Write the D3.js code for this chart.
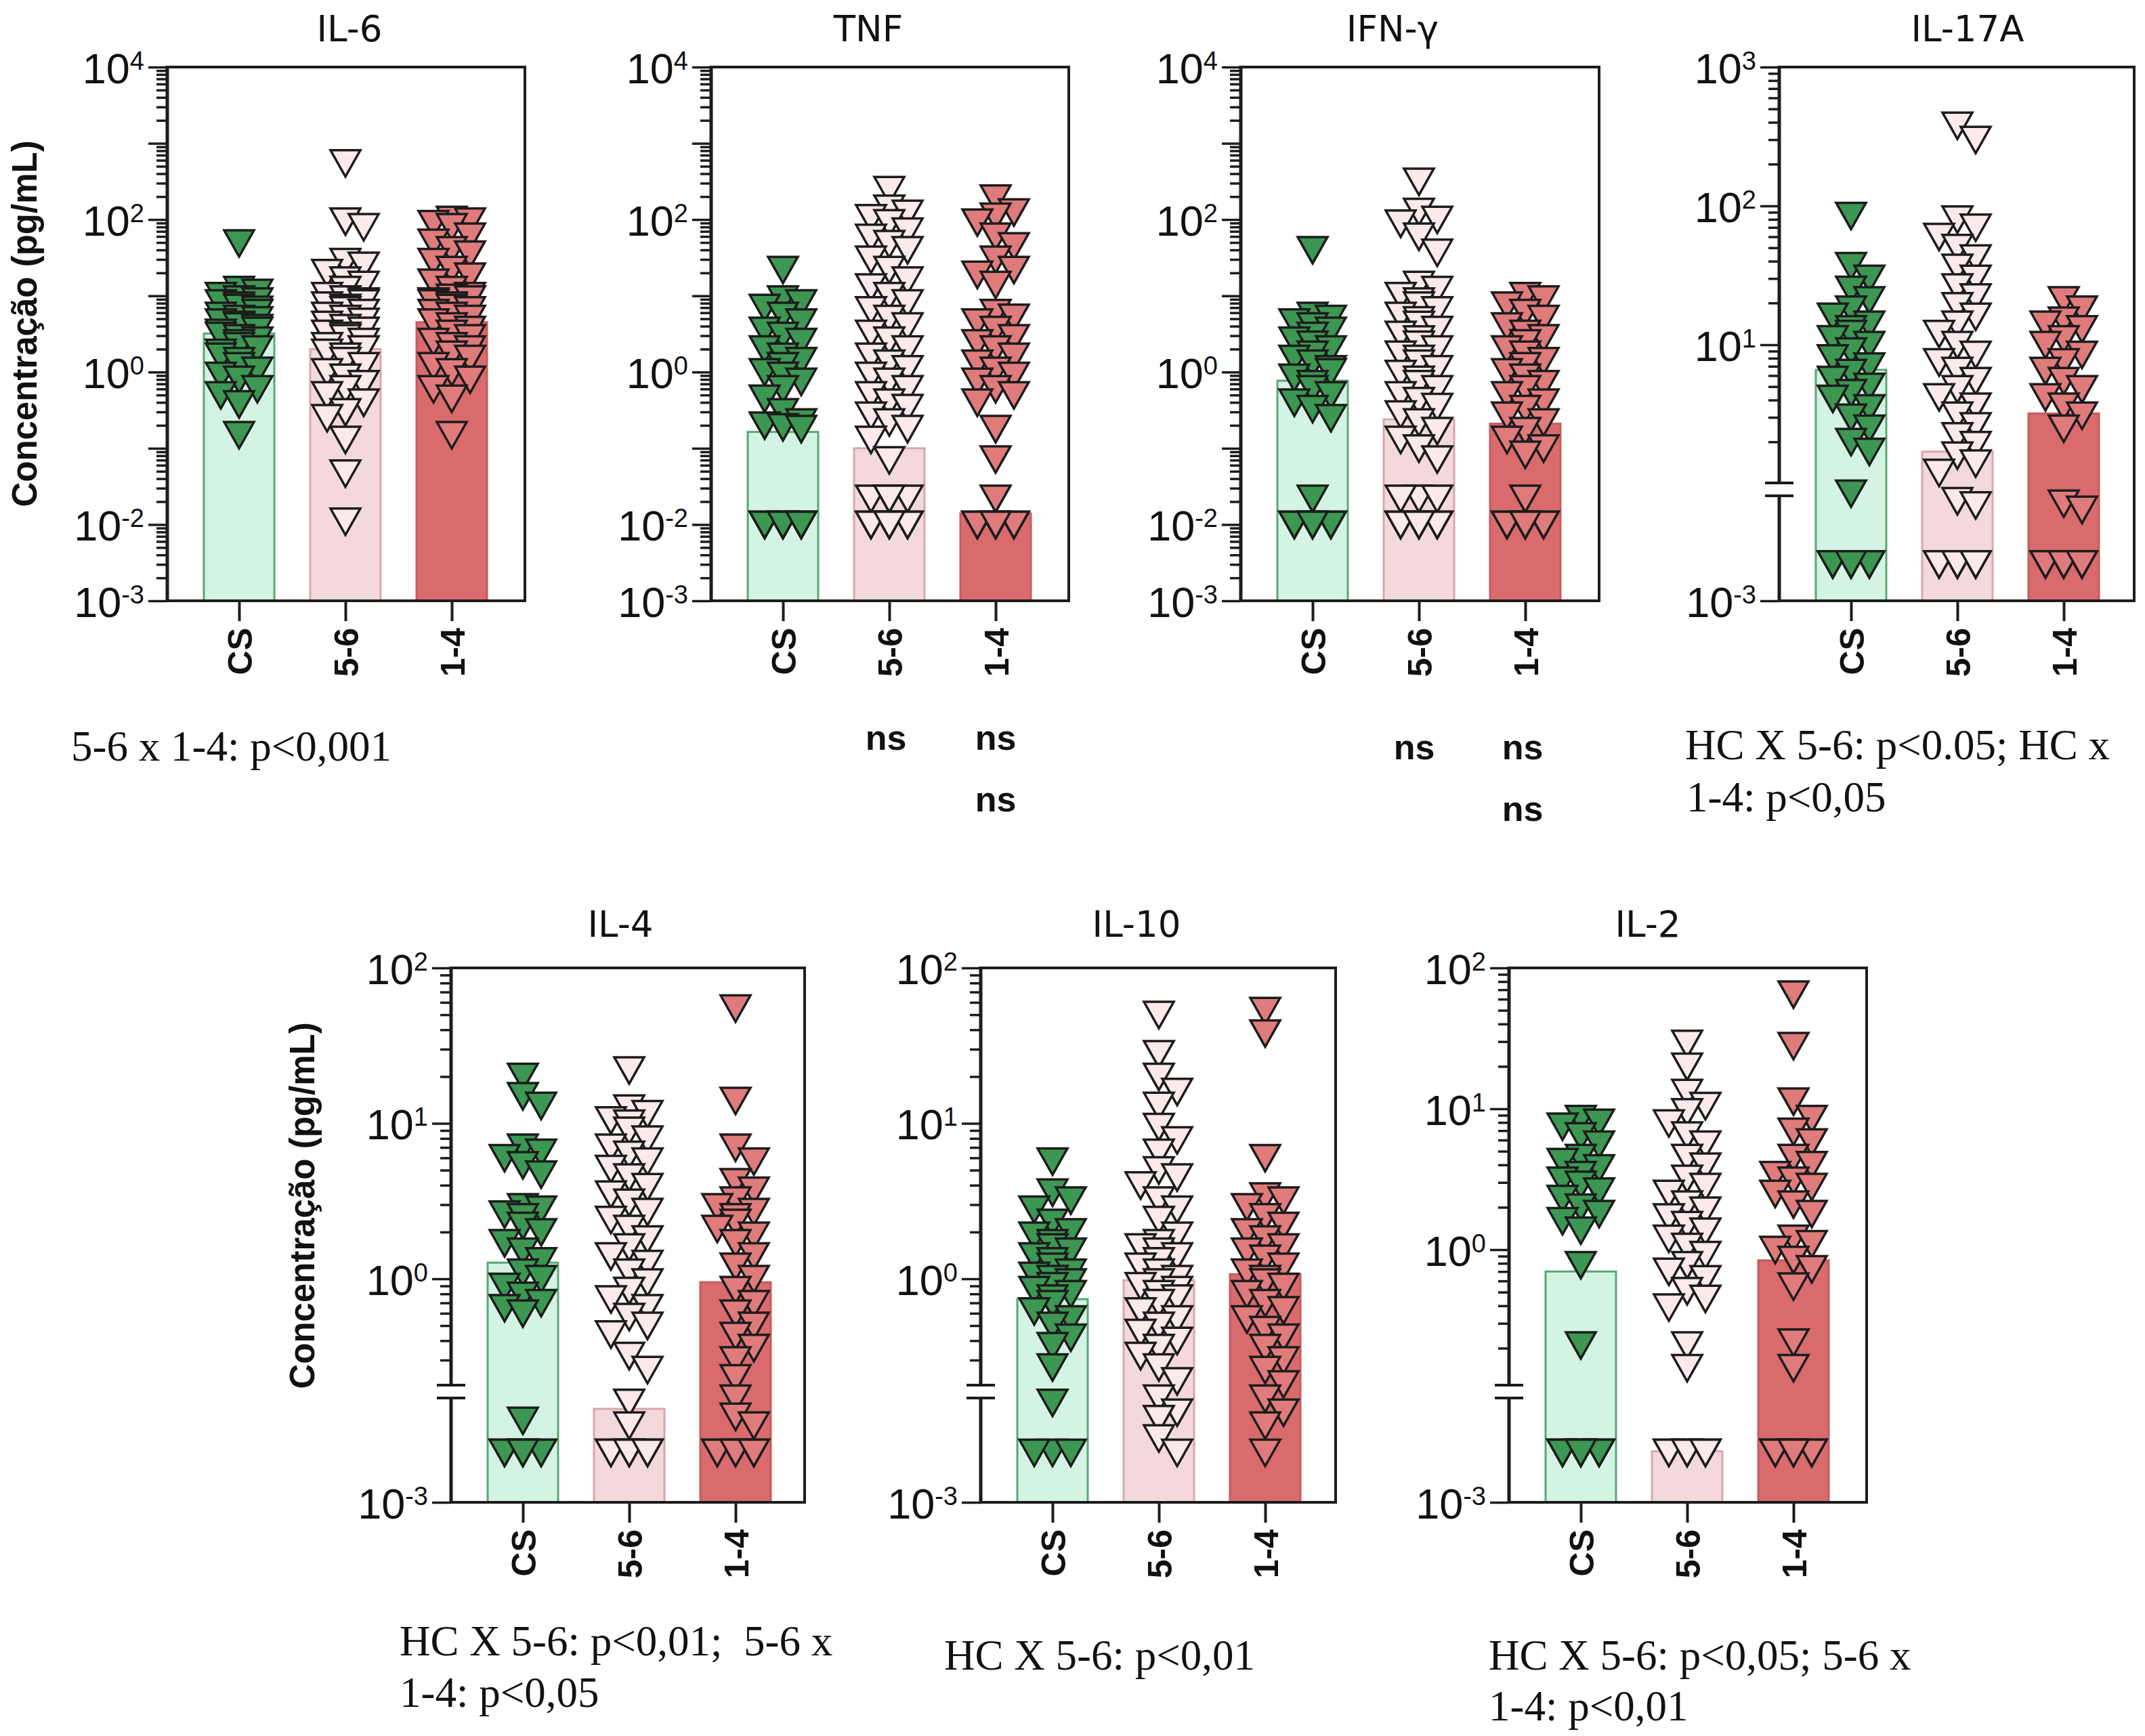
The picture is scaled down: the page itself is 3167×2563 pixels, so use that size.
<!DOCTYPE html>
<html>
<head>
<meta charset="utf-8">
<script src="https://cdn.jsdelivr.net/npm/d3@7"></script>
<style>
body { margin: 0; background: #fff; }
</style>
</head>
<body>
<div id="chart"></div>
<script>
var groups = ['CS', '5-6', '1-4'];

// IL-6
var il6_cs = [49, 12, 11, 10, 9, 8.5, 8, 7.5, 7, 6.6, 6, 5.5, 5, 4.8, 4.5, 4.2, 4, 3.8, 3.5, 3.3, 3, 2.8, 2.6, 2.4, 2.2, 2, 1.8, 1.6, 1.4, 1.2, 1.05, 0.9, 0.8, 0.6, 0.5, 0.38, 0.15];
var il6_56 = [550, 95, 80, 28, 25, 20, 16, 14, 12, 10, 9, 8.5, 8, 7.5, 7, 6.5, 6, 5.5, 5, 4.6, 4.2, 3.8, 3.5, 3.2, 3, 2.8, 2.5, 2.2, 2, 1.8, 1.6, 1.4, 1.2, 1, 0.85, 0.7, 0.6, 0.5, 0.4, 0.3, 0.25, 0.13, 0.047, 0.011];
var il6_14 = [100, 95, 88, 80, 60, 50, 40, 35, 28, 22, 18, 15, 12, 10, 9.5, 9, 8.5, 8, 7.5, 7, 6.5, 6, 5.5, 5, 4.5, 4, 3.6, 3.2, 2.8, 2.5, 2.2, 2, 1.7, 1.5, 1.2, 1, 0.8, 0.6, 0.45, 0.15];
var il6_bar = [3.2, 2.0, 4.5];

// TNF
var tnf_cs = [22, 9, 8, 7, 5.5, 4.5, 3.5, 3, 2.5, 2, 1.6, 1.4, 1.2, 1, 0.9, 0.75, 0.6, 0.45, 0.3, 0.22, 0.2, 0.19, 0.18, 0.01, 0.01, 0.01, 0.01, 0.01, 0.01, 0.01, 0.01, 0.01, 0.01, 0.01];
var tnf_56 = [245, 140, 120, 105, 90, 70, 58, 48, 40, 30, 22, 16, 13, 10, 8, 6.5, 5, 4, 3.2, 2.6, 2, 1.6, 1.3, 1.1, 0.9, 0.75, 0.6, 0.5, 0.4, 0.34, 0.27, 0.22, 0.18, 0.13, 0.07, 0.022, 0.022, 0.022, 0.022, 0.01, 0.01, 0.01, 0.01, 0.01, 0.01, 0.01, 0.01, 0.01, 0.01];
var tnf_14 = [190, 125, 110, 92, 60, 45, 30, 22, 19, 14, 6, 5.2, 4.5, 3.6, 2.8, 2.4, 2, 1.6, 1.3, 1.05, 0.9, 0.75, 0.6, 0.5, 0.4, 0.18, 0.072, 0.022, 0.01, 0.01, 0.01, 0.01, 0.01, 0.01, 0.01, 0.01, 0.01, 0.01];
var tnf_bar = [0.164, 0.1, 0.014];

// IFN-g
var ifn_cs = [40, 5.5, 5, 4.5, 4, 3.5, 3, 2.6, 2.3, 2, 1.7, 1.5, 1.3, 1.1, 1, 0.85, 0.7, 0.6, 0.5, 0.4, 0.33, 0.25, 0.022, 0.01, 0.01, 0.01, 0.01, 0.01, 0.01, 0.01, 0.01, 0.01, 0.01];
var ifn_56 = [316, 127, 100, 89, 60, 37, 14, 12, 10, 8.5, 7.5, 6.5, 5.5, 4.8, 4.2, 3.6, 3.1, 2.7, 2.3, 2, 1.7, 1.5, 1.3, 1.1, 0.95, 0.8, 0.7, 0.6, 0.5, 0.42, 0.35, 0.28, 0.22, 0.17, 0.13, 0.1, 0.072, 0.022, 0.022, 0.022, 0.01, 0.01, 0.01, 0.01, 0.01, 0.01, 0.01, 0.01, 0.01, 0.01];
var ifn_14 = [10, 9, 7.5, 6, 5, 4, 3.2, 2.8, 2.4, 2, 1.7, 1.4, 1.2, 1, 0.85, 0.7, 0.6, 0.5, 0.4, 0.33, 0.27, 0.22, 0.17, 0.13, 0.1, 0.083, 0.022, 0.01, 0.01, 0.01, 0.01, 0.01, 0.01, 0.01, 0.01, 0.01, 0.01];
var ifn_bar = [0.77, 0.24, 0.21];

// IL-17A
var il17_cs = [85, 37, 30, 25, 21, 18, 16, 14, 13, 12, 11, 10, 9, 8, 7, 6.3, 5.6, 5, 4.5, 4.1, 3.5, 3, 2.5, 2, 1.7, 0.85, 0.005, 0.005, 0.005, 0.005, 0.005, 0.005, 0.005];
var il17_56 = [380, 300, 80, 70, 60, 50, 42, 36, 30, 26, 22, 19, 16, 14, 12, 10, 8.5, 7.5, 6.5, 5.5, 4.8, 4.2, 3.6, 3.1, 2.6, 2.2, 1.9, 1.6, 1.4, 1.2, 0.75, 0.7, 0.005, 0.005, 0.005, 0.005, 0.005, 0.005, 0.005, 0.005];
var il17_14 = [21, 18, 15, 14, 13, 11, 10, 8.5, 7.5, 6.5, 5.5, 4.8, 4.2, 3.6, 3.1, 2.5, 0.72, 0.65, 0.005, 0.005, 0.005, 0.005, 0.005, 0.005, 0.005, 0.005];
var il17_bar = [6.6, 1.7, 3.2];

// IL-4
var il4_cs = [20, 15, 13, 7, 6.5, 6, 5.4, 4.7, 2.9, 2.8, 2.6, 2.5, 2.2, 2, 1.7, 1.5, 1.3, 1.1, 1, 0.89, 0.78, 0.7, 0.65, 0.6, 0.037, 0.009, 0.009, 0.009, 0.009, 0.009, 0.009, 0.009];
var il4_56 = [22, 12.5, 11.5, 10.5, 10, 9, 7.9, 7, 6.3, 5.7, 5.1, 4.5, 3.9, 3.5, 3.1, 2.7, 2.4, 2.1, 1.8, 1.6, 1.4, 1.25, 1.1, 0.95, 0.84, 0.74, 0.65, 0.57, 0.5, 0.44, 0.32, 0.26, 0.16, 0.03, 0.009, 0.009, 0.009, 0.009, 0.009, 0.009, 0.009, 0.009];
var il4_14 = [55, 14, 7, 5.7, 4.2, 3.7, 3.2, 2.9, 2.7, 2.5, 2.3, 2.1, 1.9, 1.7, 1.4, 1.2, 1, 0.85, 0.69, 0.6, 0.5, 0.43, 0.36, 0.3, 0.23, 0.17, 0.13, 0.03, 0.009, 0.009, 0.009, 0.009, 0.009, 0.009, 0.009, 0.009];
var il4_bar = [1.27, 0.062, 0.95];

// IL-10
var il10_cs = [5.7, 3.6, 3.2, 2.8, 2.3, 2, 1.9, 1.7, 1.6, 1.5, 1.4, 1.3, 1.2, 1.1, 1.05, 1, 0.95, 0.9, 0.85, 0.8, 0.75, 0.69, 0.62, 0.55, 0.5, 0.42, 0.37, 0.27, 0.16, 0.009, 0.009, 0.009];
var il10_56 = [50, 28, 20, 16, 13, 9.5, 7.8, 6.5, 5, 4.5, 4, 3.2, 2.8, 2.4, 1.9, 1.7, 1.6, 1.5, 1.4, 1.3, 1.2, 1.1, 1, 0.95, 0.9, 0.85, 0.8, 0.75, 0.7, 0.62, 0.55, 0.5, 0.45, 0.4, 0.36, 0.32, 0.27, 0.22, 0.17, 0.053, 0.04, 0.017, 0.009];
var il10_14 = [53, 38, 6, 3.4, 3.2, 2.9, 2.5, 2.2, 2, 1.8, 1.6, 1.5, 1.35, 1.2, 1.1, 1, 0.95, 0.89, 0.8, 0.7, 0.63, 0.55, 0.47, 0.42, 0.36, 0.3, 0.26, 0.21, 0.17, 0.053, 0.03, 0.009];
var il10_bar = [0.74, 0.98, 1.07];

// IL-2
var il2_cs = [8.5, 8, 7.5, 6.4, 5.6, 4.5, 4.2, 3.8, 3.4, 3.1, 2.9, 2.6, 2.3, 2, 1.8, 1.6, 1.37, 0.78, 0.21, 0.009, 0.009, 0.009, 0.009, 0.009, 0.009, 0.009, 0.009, 0.009, 0.009];
var il2_56 = [29, 20, 13, 10.5, 9.5, 7.9, 6.5, 5.6, 4.5, 3.9, 3.2, 2.8, 2.5, 2.1, 1.9, 1.7, 1.5, 1.35, 1.2, 1.05, 0.92, 0.78, 0.7, 0.62, 0.51, 0.45, 0.39, 0.21, 0.145, 0.009, 0.009, 0.009, 0.009, 0.009, 0.009, 0.009, 0.009];
var il2_14 = [65, 28, 11.3, 8.5, 6.9, 5.8, 4.5, 4, 3.4, 3.1, 2.8, 2.5, 2.1, 1.8, 1.2, 1.1, 1, 0.85, 0.73, 0.55, 0.22, 0.145, 0.009, 0.009, 0.009, 0.009, 0.009, 0.009, 0.009, 0.009, 0.009, 0.009];
var il2_bar = [0.7, 0.0095, 0.84];

// labelled powers of ten on the y axes
var row1_exps = [-3, -2, 0, 2, 4];
var il17_exps = [-3, 1, 2, 3];
var row2_exps = [-3, 0, 1, 2];

var y_title = 'Concentração (pg/mL)';

var chart_width = 3167;
var chart_height = 2563;
var ink = '#1c1c1c';
var bar_fill = ['#d3f4e2', '#f3d9dc', '#d96b6d'];
var bar_stroke = ['#5aa676', '#d8a7ac', '#c65b5e'];
var pt_fill = ['#3c9752', '#fbe9eb', '#e07b7c'];
var sans = '"Liberation Sans", Arial, sans-serif';

var panels = [
	{title: 'IL-6', sets: [il6_cs, il6_56, il6_14], bars: il6_bar, exps: row1_exps,
		left: 247, right: 775, top: 99, bottom: 887, titleX: 516, titleY: 61, yTitle: [54, 478]},
	{title: 'TNF', sets: [tnf_cs, tnf_56, tnf_14], bars: tnf_bar, exps: row1_exps,
		left: 1050, right: 1578, top: 99, bottom: 887, titleX: 1282, titleY: 61},
	{title: 'IFN-γ', sets: [ifn_cs, ifn_56, ifn_14], bars: ifn_bar, exps: row1_exps,
		left: 1832, right: 2361, top: 99, bottom: 887, titleX: 2056, titleY: 61},
	{title: 'IL-17A', sets: [il17_cs, il17_56, il17_14], bars: il17_bar, exps: il17_exps,
		left: 2627, right: 3151, top: 99, bottom: 887, titleX: 2905, titleY: 61,
		brk: {oneY: 714, topVal: 1000, brkTop: 713, lowTop: 732}},
	{title: 'IL-4', sets: [il4_cs, il4_56, il4_14], bars: il4_bar, exps: row2_exps,
		left: 666, right: 1188, top: 1429, bottom: 2218, titleX: 916, titleY: 1383, yTitle: [464, 1780],
		brk: {oneY: 1888, topVal: 100, brkTop: 2045, lowTop: 2064}},
	{title: 'IL-10', sets: [il10_cs, il10_56, il10_14], bars: il10_bar, exps: row2_exps,
		left: 1448, right: 1972, top: 1429, bottom: 2218, titleX: 1678, titleY: 1383,
		brk: {oneY: 1888, topVal: 100, brkTop: 2045, lowTop: 2064}},
	{title: 'IL-2', sets: [il2_cs, il2_56, il2_14], bars: il2_bar, exps: row2_exps,
		left: 2228, right: 2756, top: 1429, bottom: 2218, titleX: 2433, titleY: 1383,
		brk: {oneY: 1845, topVal: 100, brkTop: 2045, lowTop: 2064}}
];

// p-value notes under the panels
var notes = [
	{text: '5-6 x 1-4: p<0,001', x: 105, y: 1123},
	{text: 'HC X 5-6: p<0.05; HC x', x: 2488, y: 1121},
	{text: '1-4: p<0,05', x: 2490, y: 1198},
	{text: 'HC X 5-6: p<0,01;  5-6 x', x: 590, y: 2444},
	{text: '1-4: p<0,05', x: 590, y: 2520},
	{text: 'HC X 5-6: p<0,01', x: 1394, y: 2465},
	{text: 'HC X 5-6: p<0,05; 5-6 x', x: 2198, y: 2465},
	{text: '1-4: p<0,01', x: 2198, y: 2540}
];
var ns_marks = [
	{x: 1308, y: 1107}, {x: 1470, y: 1107}, {x: 1470, y: 1198},
	{x: 2088, y: 1121}, {x: 2248, y: 1121}, {x: 2248, y: 1212}
];

var svg = d3.select('#chart')
			.append('svg')
			.attr('width', chart_width)
			.attr('height', chart_height);
svg.append('rect')
	.attr('width', chart_width)
	.attr('height', chart_height)
	.attr('fill', '#fff');

var tri = 'M-22,-19L22,-19L0,20Z';

// spread points sideways so they don't sit on top of each other
function swarm(vals, yf){
	var sorted = vals.slice().sort(function(a, b){ return b - a; });
	var offs = [0, 9, -9, 18, -18, 27, -27, 34, -34];
	var placed = [];
	sorted.forEach(function(v){
		var y = yf(v);
		var best = 0, bestHits = 1e9;
		for(var i = 0; i < offs.length; i++){
			var hits = 0;
			placed.forEach(function(p){
				if(Math.abs(p.y - y) < 26 && Math.abs(p.dx - offs[i]) < 20) hits++;
			});
			if(hits < bestHits){ bestHits = hits; best = offs[i]; }
			if(hits === 0) break;
		}
		placed.push({v: v, y: y, dx: best});
	});
	return placed;
}

function yAxis(g, p, scale, vals, size){
	var ax = d3.axisLeft(scale)
		.tickValues(vals)
		.tickSize(size)
		.tickPadding(6)
		.tickFormat(function(){ return ''; });
	var a = g.append('g')
		.attr('transform', 'translate(' + p.left + ',0)')
		.call(ax);
	a.select('.domain').remove();
	a.selectAll('.tick line').attr('stroke', ink).attr('stroke-width', 3.5);
	a.selectAll('.tick text').each(function(d){
		var e = Math.round(Math.log10(d));
		if(size < 20 || p.exps.indexOf(e) < 0) return;
		var t = d3.select(this)
			.attr('font-family', sans)
			.attr('font-size', 63)
			.attr('fill', '#111')
			.attr('dy', 23);
		t.append('tspan').text('10');
		t.append('tspan').attr('font-size', 38).attr('dy', -20).text(e);
	});
}

function drawPanel(p){
	var g = svg.append('g');
	var x = d3.scalePoint().domain(groups).range([p.left + 106, p.left + 420]);
	var upper, lower, yf;
	if(p.brk){
		upper = d3.scaleLog().domain([1, p.brk.topVal]).range([p.brk.oneY, p.top]);
		lower = d3.scaleLog().domain([1e-3, 1e-1]).range([p.bottom, p.brk.lowTop]);
		yf = function(v){ return v >= 0.1 ? upper(v) : lower(v); };
	} else {
		upper = d3.scaleLog().domain([1e-3, 1e4]).range([p.bottom, p.top]);
		yf = upper;
	}

	// bars
	g.selectAll('rect.bar')
		.data(p.bars)
		.enter()
		.append('rect')
		.attr('x', function(d, i){ return x(groups[i]) - 52; })
		.attr('y', function(d){ return yf(d); })
		.attr('width', 104)
		.attr('height', function(d){ return p.bottom - yf(d); })
		.attr('fill', function(d, i){ return bar_fill[i]; })
		.attr('stroke', function(d, i){ return bar_stroke[i]; })
		.attr('stroke-width', 3);

	// points
	p.sets.forEach(function(vals, i){
		g.append('g')
			.selectAll('path')
			.data(swarm(vals, yf))
			.enter()
			.append('path')
			.attr('d', tri)
			.attr('transform', function(d){ return 'translate(' + (x(groups[i]) + d.dx) + ',' + d.y + ')'; })
			.attr('fill', pt_fill[i])
			.attr('stroke', ink)
			.attr('stroke-width', 3.5)
			.attr('stroke-linejoin', 'miter');
	});

	// frame: top, right, bottom
	g.append('path')
		.attr('d', 'M' + p.left + ',' + p.top + 'H' + p.right + 'V' + p.bottom + 'H' + p.left)
		.attr('fill', 'none')
		.attr('stroke', ink)
		.attr('stroke-width', 4);

	// y axis
	var minor = [], major = [];
	if(p.brk){
		var topE = Math.round(Math.log10(p.brk.topVal));
		for(var e = -1; e <= topE; e++){
			for(var k = 1; k <= 9; k++){
				var v = k * Math.pow(10, e);
				if(v > p.brk.topVal || upper(v) > p.brk.brkTop - 12) continue;
				if(k === 1) major.push(v); else minor.push(v);
			}
		}
		yAxis(g, p, upper, minor, 16);
		yAxis(g, p, upper, major, 28);
		yAxis(g, p, lower, [1e-3], 28);
		g.append('line').attr('x1', p.left).attr('x2', p.left).attr('y1', p.top - 2).attr('y2', p.brk.brkTop)
			.attr('stroke', ink).attr('stroke-width', 5);
		g.append('line').attr('x1', p.left).attr('x2', p.left).attr('y1', p.brk.lowTop).attr('y2', p.bottom + 2)
			.attr('stroke', ink).attr('stroke-width', 5);
		[p.brk.brkTop, p.brk.lowTop].forEach(function(yy){
			g.append('line').attr('x1', p.left - 21).attr('x2', p.left + 21).attr('y1', yy).attr('y2', yy)
				.attr('stroke', ink).attr('stroke-width', 4);
		});
	} else {
		for(var e2 = -3; e2 <= 4; e2++){
			for(var k2 = 1; k2 <= 9; k2++){
				var v2 = k2 * Math.pow(10, e2);
				if(v2 > 1e4) continue;
				if(k2 === 1) major.push(v2); else minor.push(v2);
			}
		}
		yAxis(g, p, upper, minor, 16);
		yAxis(g, p, upper, major, 28);
		g.append('line').attr('x1', p.left).attr('x2', p.left).attr('y1', p.top - 2).attr('y2', p.bottom + 2)
			.attr('stroke', ink).attr('stroke-width', 5);
	}

	// x axis ticks and rotated labels
	var xa = g.append('g')
		.attr('transform', 'translate(0,' + p.bottom + ')')
		.call(d3.axisBottom(x).tickSize(30).tickPadding(10));
	xa.select('.domain').remove();
	xa.selectAll('.tick line').attr('stroke', ink).attr('stroke-width', 4);
	xa.selectAll('.tick text')
		.attr('transform', 'rotate(-90)')
		.attr('x', -40)
		.attr('y', 0)
		.attr('dy', '0.36em')
		.attr('text-anchor', 'end')
		.attr('font-family', sans)
		.attr('font-weight', 'bold')
		.attr('font-size', 50)
		.attr('fill', '#111');

	// panel title
	g.append('text')
		.text(p.title)
		.attr('x', p.titleX)
		.attr('y', p.titleY)
		.attr('text-anchor', 'middle')
		.attr('font-family', '"DejaVu Sans", sans-serif')
		.attr('font-size', 53)
		.attr('fill', '#111');

	if(p.yTitle){
		g.append('text')
			.text(y_title)
			.attr('transform', 'translate(' + p.yTitle[0] + ',' + p.yTitle[1] + ') rotate(-90)')
			.attr('text-anchor', 'middle')
			.attr('font-family', sans)
			.attr('font-weight', 'bold')
			.attr('font-size', 51)
			.attr('fill', '#111');
	}
}

panels.forEach(drawPanel);

svg.selectAll('text.note')
	.data(notes)
	.enter()
	.append('text')
	.attr('class', 'note')
	.text(function(d){ return d.text; })
	.attr('x', function(d){ return d.x; })
	.attr('y', function(d){ return d.y; })
	.attr('font-family', '"Liberation Serif", "Times New Roman", serif')
	.attr('font-size', 63)
	.style('white-space', 'pre')
	.attr('fill', '#111');

svg.selectAll('text.ns')
	.data(ns_marks)
	.enter()
	.append('text')
	.attr('class', 'ns')
	.text('ns')
	.attr('x', function(d){ return d.x; })
	.attr('y', function(d){ return d.y; })
	.attr('text-anchor', 'middle')
	.attr('font-family', sans)
	.attr('font-weight', 'bold')
	.attr('font-size', 52)
	.attr('fill', '#111');
</script>
</body>
</html>
